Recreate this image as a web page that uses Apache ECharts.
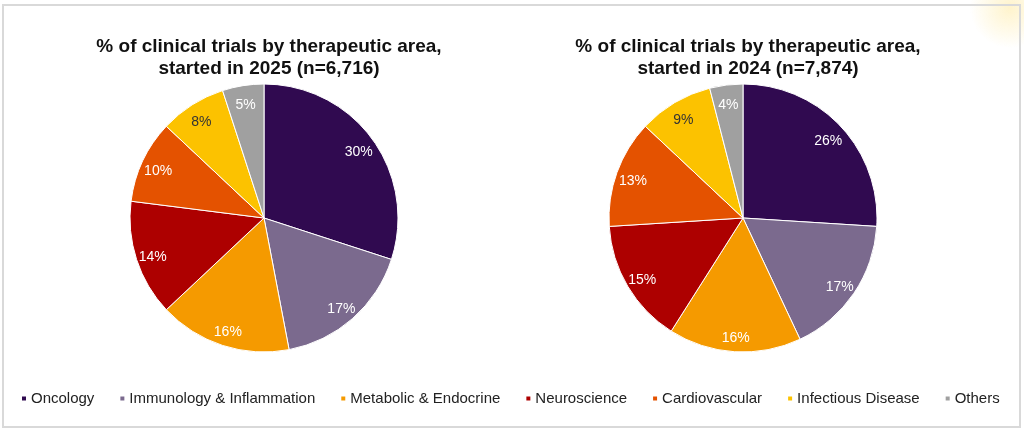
<!DOCTYPE html>
<html>
<head>
<meta charset="utf-8">
<script src="https://cdn.jsdelivr.net/npm/echarts@6/dist/echarts.min.js"></script>
<style>
    html, body { margin: 0; padding: 0; background: #fff; }
    #main { width: 1024px; height: 432px; }
</style>
</head>
<body>
<div id="main"></div>
<script>
// 治疗领域
var areas = ['Oncology', 'Immunology & Inflammation', 'Metabolic & Endocrine', 'Neuroscience',
    'Cardiovascular', 'Infectious Disease', 'Others'];
// 2025 / 2024 占比 (%)
var share2025 = [30, 17, 16, 14, 10, 8, 5];
var share2024 = [26, 17, 16, 15, 13, 9, 4];
var titles = [
    '% of clinical trials by therapeutic area,\nstarted in 2025 (n=6,716)',
    '% of clinical trials by therapeutic area,\nstarted in 2024 (n=7,874)'
];

var baseColor = ['#300a50', '#7b6a8e', '#f59a00', '#ad0000', '#e45200', '#fcc200', '#a0a0a0'];
var labelColor = ['#fff', '#fff', '#fff', '#fff', '#fff', '#333', '#fff'];
var font = '"Liberation Sans", Arial, sans-serif';

var chart = echarts.init(document.getElementById('main'));

// 扇形本体
function pieSeries(values, cx) {
    return {
        type: 'pie',
        center: [cx, 218],
        radius: [0, 134],
        startAngle: 90,
        clockwise: true,
        silent: true,
        label: {show: false},
        labelLine: {show: false},
        itemStyle: {borderColor: '#fff', borderWidth: 1},
        data: values.map(function (v, i) {
            return {name: areas[i], value: v};
        })
    };
}

// 外环标签 (透明)
function labelSeries(values, cx) {
    return {
        type: 'pie',
        center: [cx, 218],
        radius: [94, 134],
        startAngle: 90,
        silent: true,
        legendHoverLink: false,
        itemStyle: {color: 'rgba(0,0,0,0)', borderWidth: 0},
        label: {
            show: true,
            position: 'inside',
            fontFamily: font,
            fontSize: 14,
            offset: [0, 3],
            formatter: function (p) {
                return p.value + '%';
            },
            color: '#fff'
        },
        data: values.map(function (v, i) {
            return {name: areas[i], value: v, label: {color: labelColor[i]}};
        })
    };
}

var titleStyle = {fontFamily: font, fontSize: 19, fontWeight: 'bold', color: '#111', lineHeight: 22};

var option = {
    animation: false,
    color: baseColor,
    title: [
        {text: titles[0], left: 264, top: 31, textAlign: 'center', textStyle: titleStyle},
        {text: titles[1], left: 743, top: 31, textAlign: 'center', textStyle: titleStyle}
    ],
    legend: {
        data: areas,
        left: 20,
        top: 391,
        padding: 0,
        icon: 'rect',
        itemWidth: 6,
        itemHeight: 6,
        itemGap: 24,
        textStyle: {fontFamily: font, fontSize: 15, color: '#222', padding: [0, 0, 0, -1]}
    },
    graphic: [
        {
            type: 'circle',
            shape: {cx: 1010, cy: 8, r: 40},
            style: {
                fill: new echarts.graphic.RadialGradient(0.5, 0.5, 0.5, [
                    {offset: 0, color: 'rgba(255,236,170,0.6)'},
                    {offset: 1, color: 'rgba(255,236,170,0)'}
                ])
            },
            silent: true
        },
        {
            type: 'rect',
            shape: {x: 3, y: 5, width: 1017, height: 422},
            style: {fill: 'none', stroke: '#d9d9d9', lineWidth: 2},
            silent: true
        }
    ],
    series: [
        pieSeries(share2025, 264),
        labelSeries(share2025, 264),
        pieSeries(share2024, 743),
        labelSeries(share2024, 743)
    ]
};

chart.setOption(option);
</script>
</body>
</html>
